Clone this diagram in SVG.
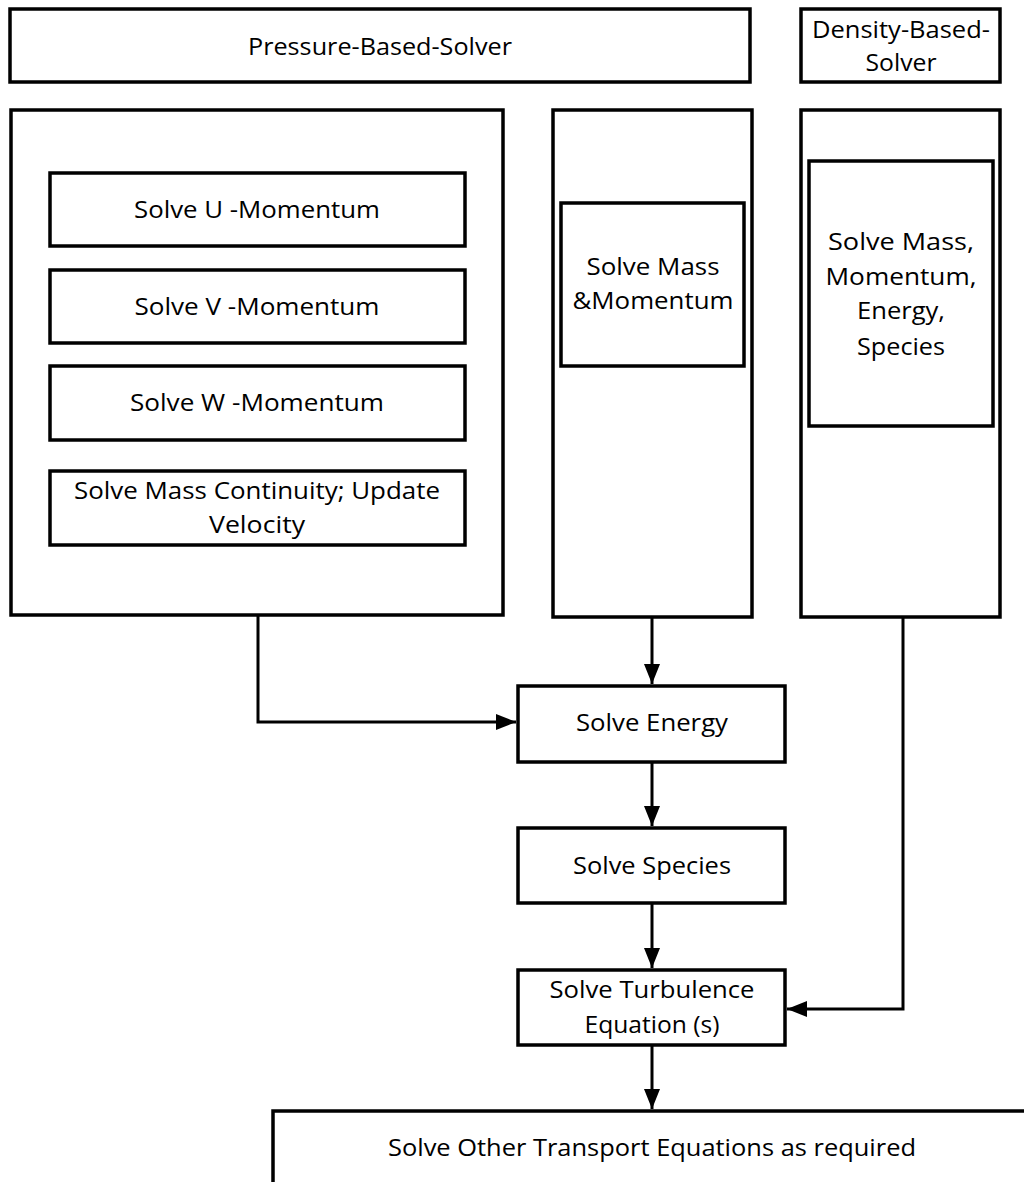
<svg xmlns="http://www.w3.org/2000/svg" width="1024" height="1182" viewBox="0 0 1024 1182">
<defs>
<style>
.b{fill:#fff;stroke:#000;stroke-width:3.5}
.t{font-family:"Open Sans","Liberation Sans",sans-serif;font-size:23px;fill:#000;text-anchor:middle}
.c{fill:none;stroke:#000;stroke-width:3}
</style>
<marker id="ah" markerWidth="10" markerHeight="10" refX="9" refY="5" orient="auto" markerUnits="userSpaceOnUse" viewBox="0 0 10 10">
<path d="M0,0 L10,5 L0,10 Z" fill="#000"/>
</marker>
<marker id="a" viewBox="0 0 20 20" refX="20" refY="10" markerWidth="20" markerHeight="20" orient="auto" markerUnits="userSpaceOnUse">
<path d="M0,2 L20,10 L0,18 Z" fill="#000"/>
</marker>
</defs>
<g id="pressure-header">
<rect class="b" x="10" y="9" width="740" height="73"/>
<text class="t" x="380" y="55" textLength="264" lengthAdjust="spacingAndGlyphs">Pressure-Based-Solver</text>
</g>
<g id="density-header">
<rect class="b" x="801" y="9" width="199" height="73"/>
<text class="t" x="901" y="38" textLength="178" lengthAdjust="spacingAndGlyphs">Density-Based-</text>
<text class="t" x="901" y="71" textLength="71" lengthAdjust="spacingAndGlyphs">Solver</text>
</g>
<g id="pressure-column">
<rect class="b" x="11" y="110" width="492" height="505"/>
</g>
<g id="u-momentum">
<rect class="b" x="50" y="173" width="415" height="73"/>
<text class="t" x="257" y="218" textLength="246" lengthAdjust="spacingAndGlyphs">Solve U -Momentum</text>
</g>
<g id="v-momentum">
<rect class="b" x="50" y="270" width="415" height="73"/>
<text class="t" x="257" y="315" textLength="245" lengthAdjust="spacingAndGlyphs">Solve V -Momentum</text>
</g>
<g id="w-momentum">
<rect class="b" x="50" y="366" width="415" height="74"/>
<text class="t" x="257" y="411" textLength="254" lengthAdjust="spacingAndGlyphs">Solve W -Momentum</text>
</g>
<g id="mass-continuity">
<rect class="b" x="50" y="471" width="415" height="74"/>
<text class="t" x="257" y="499" textLength="366" lengthAdjust="spacingAndGlyphs">Solve Mass Continuity; Update</text>
<text class="t" x="257" y="533" textLength="96" lengthAdjust="spacingAndGlyphs">Velocity</text>
</g>
<g id="middle-column">
<rect class="b" x="553" y="110" width="199" height="507"/>
</g>
<g id="mass-momentum">
<rect class="b" x="561" y="203" width="183" height="163"/>
<text class="t" x="653" y="275" textLength="133" lengthAdjust="spacingAndGlyphs">Solve Mass</text>
<text class="t" x="653" y="309" textLength="161" lengthAdjust="spacingAndGlyphs">&amp;Momentum</text>
</g>
<g id="density-column">
<rect class="b" x="801" y="110" width="199" height="507"/>
</g>
<g id="coupled">
<rect class="b" x="809" y="161" width="184" height="265"/>
<text class="t" x="901" y="250" textLength="146" lengthAdjust="spacingAndGlyphs">Solve Mass,</text>
<text class="t" x="901" y="285" textLength="151" lengthAdjust="spacingAndGlyphs">Momentum,</text>
<text class="t" x="901" y="319" textLength="88" lengthAdjust="spacingAndGlyphs">Energy,</text>
<text class="t" x="901" y="355" textLength="88" lengthAdjust="spacingAndGlyphs">Species</text>
</g>
<g id="energy">
<rect class="b" x="518" y="686" width="267" height="76"/>
<text class="t" x="652" y="731" textLength="152" lengthAdjust="spacingAndGlyphs">Solve Energy</text>
</g>
<g id="species">
<rect class="b" x="518" y="828" width="267" height="75"/>
<text class="t" x="652" y="874" textLength="158" lengthAdjust="spacingAndGlyphs">Solve Species</text>
</g>
<g id="turbulence">
<rect class="b" x="518" y="970" width="267" height="75"/>
<text class="t" x="652" y="998" textLength="205" lengthAdjust="spacingAndGlyphs">Solve Turbulence</text>
<text class="t" x="652" y="1033" textLength="135" lengthAdjust="spacingAndGlyphs">Equation (s)</text>
</g>
<g id="other-transport">
<rect class="b" x="273" y="1111" width="762" height="90"/>
<text class="t" x="652" y="1156" textLength="528" lengthAdjust="spacingAndGlyphs">Solve Other Transport Equations as required</text>
</g>
<g id="connectors">
<path class="c" d="M258,615 V722 H516" marker-end="url(#a)"/>
<path class="c" d="M652,617 V684" marker-end="url(#a)"/>
<path class="c" d="M652,762 V826" marker-end="url(#a)"/>
<path class="c" d="M652,903 V968" marker-end="url(#a)"/>
<path class="c" d="M652,1045 V1109" marker-end="url(#a)"/>
<path class="c" d="M903,617 V1009 H787" marker-end="url(#a)"/>
</g>
</svg>
